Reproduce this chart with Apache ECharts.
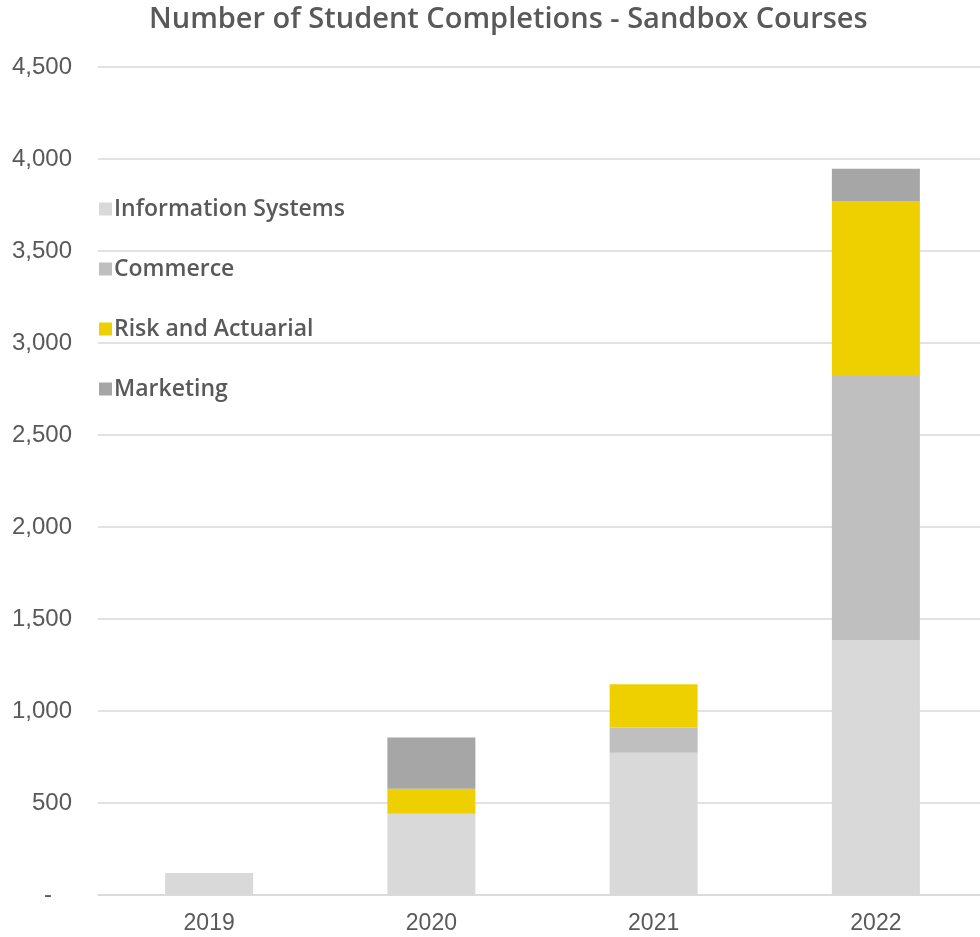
<!DOCTYPE html>
<html lang="en">
  <head>
    <meta charset="UTF-8" />
    <title>Number of Student Completions - Sandbox Courses</title>
    <script src="https://cdn.jsdelivr.net/npm/echarts@6/dist/echarts.min.js"></script>
    <style>
      * {
        margin: 0;
        padding: 0;
      }
    </style>
  </head>
  <body>
    <div id="charts" style="width: 980px; height: 937px"></div>
    <script>
      var years = ["2019", "2020", "2021", "2022"];
      var infoSystems = [120, 442, 773, 1386];
      var commerce = [0, 0, 137, 1435];
      var riskActuarial = [0, 136, 235, 951];
      var marketing = [0, 278, 0, 175];

      var textColor = "#595959";
      var myEcharts = echarts.init(document.getElementById("charts"));

      function bar(name, data, color) {
        return {
          name: name,
          type: "bar",
          stack: "total",
          barWidth: 88,
          data: data,
          itemStyle: { color: color },
        };
      }

      var options = {
        animation: false,
        title: {
          text: "Number of Student Completions - Sandbox Courses",
          left: 144,
          top: 0,
          textStyle: {
            fontFamily: "Open Sans",
            fontSize: 29,
            fontWeight: 600,
            color: textColor,
          },
        },
        legend: {
          orient: "vertical",
          left: 94,
          top: 192,
          itemWidth: 13,
          itemHeight: 13,
          itemGap: 36,
          icon: "rect",
          textStyle: {
            fontFamily: "Open Sans",
            fontSize: 23,
            fontWeight: 600,
            lineHeight: 24,
            color: textColor,
            padding: [0, 0, 0, -3],
          },
          data: ["Information Systems", "Commerce", "Risk and Actuarial", "Marketing"],
        },
        grid: {
          left: 98,
          top: 67,
          width: 889,
          height: 828,
          containLabel: false,
          outerBoundsMode: "none",
        },
        xAxis: {
          type: "category",
          data: years,
          axisLine: { lineStyle: { color: "#d9d9d9", width: 1.5 } },
          axisTick: { show: false },
          axisLabel: {
            color: textColor,
            fontFamily: "Liberation Sans",
            fontSize: 23,
            margin: 17,
          },
        },
        yAxis: {
          type: "value",
          min: 0,
          max: 4500,
          interval: 500,
          axisLine: { show: false },
          axisTick: { show: false },
          splitLine: { lineStyle: { color: "#d9d9d9", width: 1.5 } },
          axisLabel: {
            color: textColor,
            fontFamily: "Liberation Sans",
            fontSize: 24,
            margin: 26,
            formatter: function (v) {
              if (v === 0) return "-   ";
              return v.toLocaleString("en-US");
            },
          },
        },
        series: [
          bar("Information Systems", infoSystems, "#d9d9d9"),
          bar("Commerce", commerce, "#bfbfbf"),
          bar("Risk and Actuarial", riskActuarial, "#eecf00"),
          bar("Marketing", marketing, "#a6a6a6"),
        ],
      };
      myEcharts.setOption(options);
    </script>
  </body>
</html>
